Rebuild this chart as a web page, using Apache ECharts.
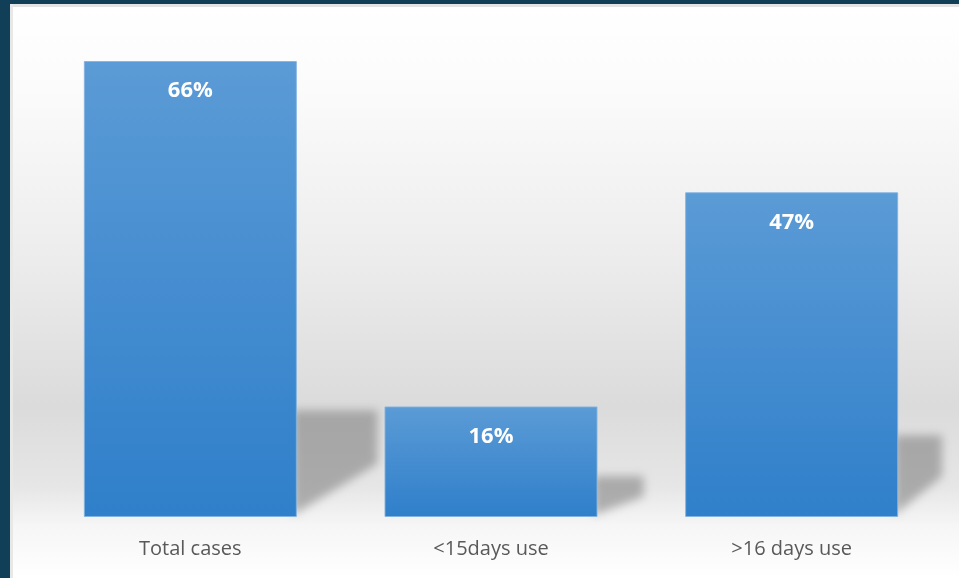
<!DOCTYPE html>
<html>
<head>
<meta charset="utf-8">
<script src="https://cdn.jsdelivr.net/npm/echarts@6/dist/echarts.min.js"></script>
<style>
  html, body { margin: 0; padding: 0; background: #ffffff; }
  #chart { width: 959px; height: 578px; }
</style>
</head>
<body>
<div id="chart"></div>
<script>
// Share of cases per usage group (percent)
const categories = ['Total cases', '<15days use', '>16 days use'];
const shares = [66, 16, 47];

const BAR_W = 213;
const FONT = '"Open Sans", "Liberation Sans", sans-serif';
const SHIFT = 3000; // shape is drawn off-canvas, only its blurred shadow lands on the plot

const chart = echarts.init(document.getElementById('chart'), null, { renderer: 'canvas' });

// Soft floor shadow cast to the right of each bar
function shadowItem(params, api) {
  const i = api.value(0);
  const v = api.value(1);
  const base = api.coord([i, 0]);
  const top = api.coord([i, v]);
  const h = base[1] - top[1];
  const xR = base[0] + BAR_W / 2;
  const plotRight = params.coordSys.x + params.coordSys.width;
  const lift = 20 + 0.19 * h;
  const reach = Math.min(35 + 0.1 * h, plotRight - xR);
  const y0 = base[1];
  const yT = y0 - lift;
  return {
    type: 'polygon',
    shape: {
      points: [
        [xR + SHIFT - 4, y0 - 2], [xR + SHIFT - 4, yT],
        [xR + SHIFT + reach, yT], [xR + SHIFT + reach, yT + lift * 0.5]
      ]
    },
    style: {
      fill: '#888888',
      shadowBlur: 10,
      shadowOffsetX: -SHIFT,
      shadowColor: 'rgba(120,120,120,0.55)'
    }
  };
}

chart.setOption({
  animation: false,
  graphic: [
    {
      type: 'rect', z: -10, silent: true,
      shape: { x: 10, y: 4, width: 949, height: 574 },
      style: {
        fill: {
          type: 'linear', x: 0, y: 0, x2: 0, y2: 1,
          colorStops: [
            { offset: 0, color: '#ffffff' },
            { offset: 0.15, color: '#fbfbfb' },
            { offset: 0.45, color: '#ececec' },
            { offset: 0.7, color: '#dbdbdb' },
            { offset: 0.84, color: '#e6e6e6' },
            { offset: 0.91, color: '#f6f6f6' },
            { offset: 1, color: '#ffffff' }
          ]
        }
      }
    },
    { type: 'rect', z: 100, silent: true, shape: { x: 0, y: 0, width: 10, height: 578 }, style: { fill: '#113f58' } },
    { type: 'rect', z: 100, silent: true, shape: { x: 0, y: 0, width: 959, height: 4 }, style: { fill: '#113f58' } },
    { type: 'rect', z: 99, silent: true, shape: { x: 10, y: 4, width: 949, height: 3 }, style: { fill: '#e4e4e4' } },
    { type: 'rect', z: 99, silent: true, shape: { x: 10, y: 4, width: 3, height: 574 }, style: { fill: '#e8e8e8' } }
  ],
  grid: { left: 40, right: 17, top: 61, bottom: 61 },
  xAxis: {
    type: 'category',
    data: categories,
    axisLine: { show: false },
    axisTick: { show: false },
    axisLabel: {
      color: '#595959',
      fontFamily: FONT,
      fontSize: 20,
      margin: 22
    }
  },
  yAxis: {
    type: 'value',
    min: 0,
    max: 66,
    show: false,
    splitLine: { show: false }
  },
  series: [
    {
      type: 'custom',
      z: 1,
      clip: false,
      silent: true,
      renderItem: shadowItem,
      encode: { x: 0, y: 1 },
      data: shares.map((v, i) => [i, v])
    },
    {
      type: 'bar',
      z: 3,
      barWidth: BAR_W,
      data: shares,
      itemStyle: {
        color: {
          type: 'linear', x: 0, y: 0, x2: 0, y2: 1,
          colorStops: [
            { offset: 0, color: '#5b9bd6' },
            { offset: 1, color: '#2f7fca' }
          ]
        },
        borderColor: 'rgba(130,180,225,0.9)',
        borderWidth: 1
      },
      label: {
        show: true,
        position: 'insideTop',
        distance: 19,
        formatter: '{c}%',
        color: '#ffffff',
        fontFamily: FONT,
        fontWeight: 'bold',
        fontSize: 22
      }
    }
  ]
});
</script>
</body>
</html>
